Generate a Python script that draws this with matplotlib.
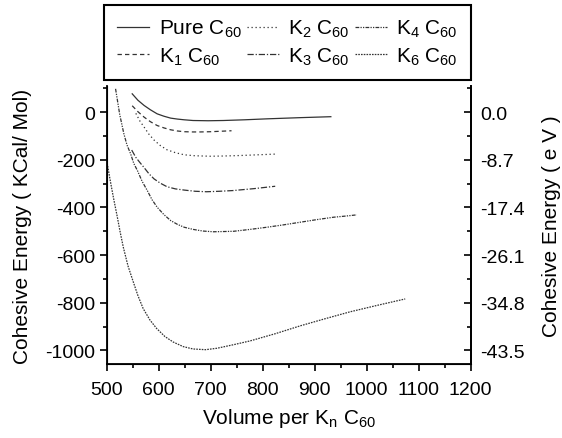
import matplotlib
matplotlib.use('Agg')
import matplotlib.pyplot as plt
from matplotlib.ticker import MultipleLocator, FixedLocator, FixedFormatter

plt.rcParams['font.family'] = ['Liberation Sans', 'DejaVu Sans']
plt.rcParams['mathtext.default'] = 'regular'
plt.rcParams['axes.unicode_minus'] = False

# curves: volume per KnC60 vs cohesive energy (kcal/mol)
pure_v = [549, 560, 572, 584, 597, 610, 623, 636, 649, 666, 695, 724, 765, 808, 872, 931]
pure_e = [77, 50, 28, 10, -7, -17, -25, -29, -32, -35, -36, -35, -32, -28, -23, -19]

k1_v = [549, 560, 572, 584, 597, 610, 623, 636, 649, 665, 680, 700, 720, 740]
k1_e = [27, 2, -21, -40, -56, -66, -74, -79, -82, -83, -83, -82, -80, -78]

k2_v = [556, 564, 572, 581, 591, 603, 616, 632, 649, 670, 699, 725, 756, 790, 824]
k2_e = [-5, -38, -63, -92, -117, -140, -158, -170, -179, -183, -185, -184, -182, -179, -176]

k3_v = [548, 556, 564, 572, 581, 591, 603, 616, 632, 649, 670, 692, 717, 743, 783, 824]
k3_e = [-159, -190, -212, -233, -258, -280, -298, -313, -322, -327, -332, -334, -332, -329, -321, -311]

k4_v = [517, 525, 533, 539, 546, 552, 559, 568, 578, 587, 597, 610, 623, 636, 649, 666,
        685, 705, 725, 744, 776, 808, 840, 872, 904, 936, 960, 981]
k4_e = [98, -10, -91, -138, -175, -215, -245, -290, -329, -367, -399, -430, -455, -471, -483, -492,
        -499, -502, -501, -500, -492, -483, -473, -462, -451, -441, -436, -431]

k6_v = [500, 506, 513, 520, 526, 532, 541, 551, 560, 570, 583, 596, 612, 628, 647, 666,
        690, 712, 744, 776, 824, 872, 920, 968, 1020, 1074]
k6_e = [-203, -278, -360, -436, -505, -568, -646, -712, -770, -824, -872, -908, -942, -965, -984, -994,
        -997, -991, -976, -960, -930, -897, -867, -838, -811, -784]

y_ticks = [0, -200, -400, -600, -800, -1000]
ev_labels = ['0.0', '-8.7', '-17.4', '-26.1', '-34.8', '-43.5']

series = [
    ('Pure C$_{60}$', pure_v, pure_e, '-'),
    ('K$_1$ C$_{60}$', k1_v, k1_e, (0, (3.5, 2.5))),
    ('K$_2$ C$_{60}$', k2_v, k2_e, (0, (1, 2.2))),
    ('K$_3$ C$_{60}$', k3_v, k3_e, (0, (5, 1.5, 1, 1.5))),
    ('K$_4$ C$_{60}$', k4_v, k4_e, (0, (3, 1, 1, 1, 1, 1))),
    ('K$_6$ C$_{60}$', k6_v, k6_e, (0, (1.3, 0.9))),
]

fig = plt.figure(figsize=(5.62, 4.39), dpi=100)
ax = fig.add_axes([0.1899, 0.1686, 0.6477, 0.6333])

handles = []
for label, v, e, ls in series:
    line, = ax.plot(v, e, color='#333333', lw=0.9, linestyle=ls, label=label)
    handles.append(line)

ax.set_xlim(500, 1200)
ax.set_ylim(-1057, 110)
ax.xaxis.set_major_locator(MultipleLocator(100))
ax.xaxis.set_minor_locator(MultipleLocator(50))
ax.yaxis.set_major_locator(FixedLocator(y_ticks))
ax.yaxis.set_minor_locator(MultipleLocator(100))
ax.tick_params(which='both', direction='out', width=1.2, labelsize=14)
ax.tick_params(which='major', length=5)
ax.tick_params(which='minor', length=3)
ax.tick_params(axis='x', which='major', pad=7)
ax.spines['top'].set_visible(False)
for s in ['left', 'bottom', 'right']:
    ax.spines[s].set_linewidth(1.3)

ax.set_xlabel('Volume per K$_n$ C$_{60}$', fontsize=15, labelpad=6)
ax.set_ylabel('Cohesive Energy ( KCal/ Mol)', fontsize=15, labelpad=9)

ax2 = ax.twinx()
ax2.set_ylim(ax.get_ylim())
ax2.yaxis.set_major_locator(FixedLocator(y_ticks))
ax2.yaxis.set_major_formatter(FixedFormatter(ev_labels))
ax2.yaxis.set_minor_locator(MultipleLocator(100))
ax2.tick_params(which='both', direction='in', width=1.2, labelsize=14)
ax2.tick_params(which='major', length=5, pad=7)
ax2.tick_params(which='minor', length=3)
ax2.spines['top'].set_visible(False)
ax2.spines['right'].set_linewidth(1.3)
ax2.set_ylabel('Cohesive Energy ( e V )', fontsize=15, labelpad=12)

leg = fig.legend(handles=handles, loc='upper left', ncol=3, mode='expand',
                 bbox_to_anchor=(104 / 562, 1 - 78 / 439, 367 / 562, 72 / 439),
                 borderaxespad=0, fontsize=15, handlelength=1.55, handletextpad=0.45,
                 labelspacing=0.3, borderpad=0.62, fancybox=False, framealpha=1)
leg.get_frame().set_edgecolor('black')
leg.get_frame().set_linewidth(1.5)

fig.savefig('out.png', dpi=100)
